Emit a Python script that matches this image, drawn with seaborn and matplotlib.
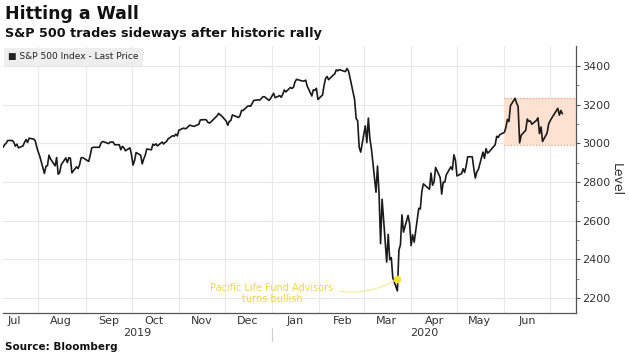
import matplotlib
matplotlib.use("Agg")
import matplotlib.pyplot as plt
import matplotlib.dates as mdates
import seaborn as sns
import pandas as pd
import numpy as np

# S&P 500 daily closes, Jul 9 2019 - Jul 9 2020, one list per month
jul19 = [2979, 2993, 3000, 3014, 3014, 3004, 2985, 2995, 2976, 2986, 3005, 3019,
         3004, 3026, 3021, 3013, 2980]
aug19 = [2954, 2932, 2844, 2881, 2884, 2938, 2919, 2883, 2926, 2840, 2848, 2889,
         2924, 2900, 2925, 2923, 2847, 2878, 2869, 2888, 2924, 2926]
sep19 = [2906, 2938, 2976, 2979, 2979, 2979, 3000, 3009, 3007, 2998, 3006, 3006,
         3006, 2992, 2992, 2966, 2984, 2977, 2961, 2976]
oct19 = [2940, 2887, 2910, 2952, 2938, 2893, 2919, 2938, 2970, 2966, 2995, 2989,
         2997, 2986, 3006, 2996, 3004, 3010, 3023, 3039, 3036, 3047, 3038]
nov19 = [3067, 3078, 3075, 3077, 3085, 3093, 3087, 3091, 3094, 3097, 3120, 3122,
         3120, 3108, 3104, 3110, 3134, 3141, 3154, 3141]
dec19 = [3114, 3093, 3113, 3117, 3146, 3136, 3133, 3142, 3169, 3169, 3191, 3193,
         3191, 3206, 3221, 3224, 3223, 3240, 3240, 3221, 3231]
jan20 = [3258, 3235, 3246, 3237, 3253, 3275, 3265, 3288, 3283, 3289, 3317, 3330,
         3321, 3321, 3326, 3295, 3244, 3276, 3273, 3284, 3226]
feb20 = [3249, 3298, 3334, 3345, 3328, 3352, 3358, 3379, 3374, 3380, 3370, 3386,
         3373, 3338, 3226, 3128, 3116, 2979, 2954]
mar20 = [3090, 3003, 3130, 3024, 2972, 2747, 2882, 2741, 2481, 2711, 2386, 2529,
         2398, 2409, 2305, 2237, 2447, 2476, 2630, 2541, 2627, 2585]
apr20 = [2471, 2527, 2489, 2664, 2660, 2750, 2790, 2762, 2846, 2783, 2800, 2875,
         2823, 2737, 2799, 2798, 2837, 2878, 2863, 2940, 2912]
may20 = [2831, 2843, 2868, 2849, 2882, 2930, 2930, 2870, 2820, 2852, 2864, 2954,
         2922, 2972, 2949, 2955, 2992, 3036, 3030, 3044]
jun20 = [3056, 3081, 3123, 3112, 3194, 3232, 3207, 3190, 3002, 3041, 3067, 3125,
         3113, 3115, 3098, 3118, 3131, 3050, 3084, 3009, 3053, 3100]
jul20 = [3116, 3130, 3180, 3145, 3169, 3152]

holidays = ["2019-09-02", "2019-11-28", "2019-12-25", "2020-01-01", "2020-01-20",
            "2020-02-17", "2020-04-10", "2020-05-25", "2020-07-03"]

# sideways range box and annotation
range_start = "2020-06-01"
range_low, range_high = 2990, 3235
note_date, note_level = "2020-03-23", 2300
note_text = "Pacific Life Fund Advisors\nturns bullish"

month_labels = ["Jul", "Aug", "Sep", "Oct", "Nov", "Dec",
                "Jan", "Feb", "Mar", "Apr", "May", "Jun"]
year_labels = ["2019", "2020"]
yticks = [2200, 2400, 2600, 2800, 3000, 3200, 3400]

values = (jul19 + aug19 + sep19 + oct19 + nov19 + dec19 + jan20 + feb20 + mar20
          + apr20 + may20 + jun20 + jul20)
dates = pd.bdate_range("2019-07-09", "2020-07-09", freq="C", holidays=holidays)
df = pd.DataFrame({"date": dates, "level": values})

x_left, x_right = pd.Timestamp("2019-07-09"), pd.Timestamp("2020-07-18")
year_split = pd.Timestamp("2020-01-01")

sns.set_style("white")
plt.rcParams["font.family"] = ["DejaVu Sans"]

fig = plt.figure(figsize=(6.29, 3.61), dpi=100)
ax = fig.add_axes([0.005, 0.133, 0.911, 0.740])

# gridlines
month_starts = pd.date_range("2019-08-01", "2020-07-01", freq="MS")
for m in month_starts:
    ax.axvline(m, color="#e8e8e8", lw=0.8, zorder=0)
for y in yticks:
    ax.axhline(y, color="#e8e8e8", lw=0.8, zorder=0)

# range box
x0 = mdates.date2num(pd.Timestamp(range_start))
x1 = mdates.date2num(x_right)
ax.add_patch(plt.Rectangle((x0, range_low), x1 - x0, range_high - range_low,
                           facecolor="#fde2d2", edgecolor="none", zorder=1))
ax.hlines([range_low, range_high], x0, x1, colors="#e9a27f", linestyles=(0, (1, 1.5)),
          lw=0.9, zorder=2)

sns.lineplot(data=df, x="date", y="level", color="#1a1a1a", lw=1.2, ax=ax, zorder=3)

# annotation
ax.plot(pd.Timestamp(note_date), note_level, "o", color="#f3e332", ms=4.5, zorder=4)
ax.annotate(note_text, xy=(pd.Timestamp(note_date), note_level),
            xytext=(pd.Timestamp("2020-01-01"), 2225), ha="center", va="center",
            fontsize=7.0, color="#f0d840", linespacing=1.1,
            arrowprops=dict(arrowstyle="-", color="#f5ec9a", lw=0.9,
                            connectionstyle="arc3,rad=0.2", relpos=(1.0, 0.65),
                            shrinkA=2, shrinkB=2))

ax.set_xlim(x_left, x_right)
ax.set_ylim(2123, 3503)

# right-hand axis
ax.yaxis.tick_right()
ax.yaxis.set_label_position("right")
ax.set_yticks(yticks)
ax.set_yticks(np.arange(2200, 3500, 100), minor=True)
ax.tick_params(axis="y", which="major", direction="out", length=3, width=0.8,
               color="#555555", labelsize=8, labelcolor="#333333", pad=1.5)
ax.tick_params(axis="y", which="minor", direction="out", length=2, width=0.6,
               color="#777777")
ax.set_ylabel("Level", rotation=270, labelpad=9, fontsize=9, color="#333333")

ax.set_xticks(month_starts)
ax.set_xticklabels([])
ax.tick_params(axis="x", direction="inout", length=3, width=0.8, color="#777777")
ax.set_xlabel("")

for s in ["top", "left"]:
    ax.spines[s].set_visible(False)
for s in ["bottom", "right"]:
    ax.spines[s].set_color("#555555")
    ax.spines[s].set_linewidth(0.9)

# month and year labels
trans = ax.get_xaxis_transform()
mid_dates = [pd.Timestamp(f"{y}-{m:02d}-16") for y, m in
             [(2019, 7), (2019, 8), (2019, 9), (2019, 10), (2019, 11), (2019, 12),
              (2020, 1), (2020, 2), (2020, 3), (2020, 4), (2020, 5), (2020, 6)]]
for d, lab in zip(mid_dates, month_labels):
    ax.text(d, -0.03, lab, transform=trans, ha="center", va="center",
            fontsize=8, color="#333333")
year_centres = [x_left + (year_split - x_left) / 2, year_split + (x_right - year_split) / 2]
for d, lab in zip(year_centres, year_labels):
    ax.text(d, -0.075, lab, transform=trans, ha="center", va="center",
            fontsize=8, color="#333333")
ax.plot([year_split] * 2, [-0.055, -0.105], transform=trans,
        color="#cccccc", lw=0.8, clip_on=False)

# legend box
fig.text(0.013, 0.843, "\u25a0 S&P 500 Index - Last Price", fontsize=6.5, color="#222222",
         va="center", ha="left",
         bbox=dict(boxstyle="square,pad=0.5", facecolor="#eeeeee", edgecolor="none"))

fig.text(0.008, 0.962, "Hitting a Wall", fontsize=12.5, fontweight="bold",
         color="#111111", va="center")
fig.text(0.008, 0.907, "S&P 500 trades sideways after historic rally", fontsize=9.2,
         fontweight="bold", color="#111111", va="center")
fig.text(0.008, 0.04, "Source: Bloomberg", fontsize=7.5, fontweight="bold",
         color="#111111", va="center")

fig.savefig("out.png", dpi=100)
